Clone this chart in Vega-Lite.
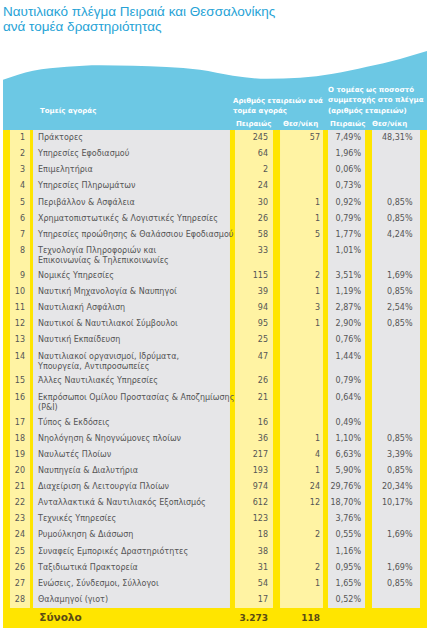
{
  "$schema": "https://vega.github.io/schema/vega-lite/v6.json",
  "width": 431,
  "height": 631,
  "autosize": {"type": "fit", "contains": "padding"},
  "padding": {"left": 0, "right": 0, "top": 5, "bottom": 0},
  "background": "white",
  "title": {
    "text": "Ναυτιλιακό πλέγμα Πειραιά και Θεσσαλονίκης",
    "subtitle": "ανά τομέα δραστηριότητας",
    "anchor": "start",
    "frame": "group",
    "dx": 3,
    "fontSize": 13.5,
    "font": "Liberation Sans",
    "fontWeight": "normal",
    "color": "#27a3d6",
    "subtitleFont": "Liberation Sans",
    "subtitleFontSize": 13.5,
    "subtitleColor": "#27a3d6",
    "subtitlePadding": 1,
    "offset": 4
  },
  "config": {
    "view": {"stroke": null},
    "locale": {"number": {"decimal": ",", "thousands": ".", "grouping": [3], "currency": ["", " €"]}},
    "text": {"font": "DejaVu Sans"}
  },
  "datasets": {
    "rows": [
      {"num": 1, "sector": "Πράκτορες", "P": 245, "T": 57, "Pp": 0.0749, "Tp": 0.4831, "kind": "row"},
      {"num": 2, "sector": "Υπηρεσίες Εφοδιασμού", "P": 64, "T": null, "Pp": 0.0196, "Tp": null, "kind": "row"},
      {"num": 3, "sector": "Επιμελητήρια", "P": 2, "T": null, "Pp": 0.0006, "Tp": null, "kind": "row"},
      {"num": 4, "sector": "Υπηρεσίες Πληρωμάτων", "P": 24, "T": null, "Pp": 0.0073, "Tp": null, "kind": "row"},
      {"num": 5, "sector": "Περιβάλλον & Ασφάλεια", "P": 30, "T": 1, "Pp": 0.0092, "Tp": 0.0085, "kind": "row"},
      {"num": 6, "sector": "Χρηματοπιστωτικές & Λογιστικές Υπηρεσίες", "P": 26, "T": 1, "Pp": 0.0079, "Tp": 0.0085, "kind": "row"},
      {"num": 7, "sector": "Υπηρεσίες προώθησης & Θαλάσσιου Εφοδιασμού", "P": 58, "T": 5, "Pp": 0.0177, "Tp": 0.0424, "kind": "row"},
      {"num": 8, "sector": "Τεχνολογία Πληροφοριών και\nΕπικοινωνίας & Τηλεπικοινωνίες", "P": 33, "T": null, "Pp": 0.0101, "Tp": null, "kind": "row"},
      {"num": 9, "sector": "Νομικές Υπηρεσίες", "P": 115, "T": 2, "Pp": 0.0351, "Tp": 0.0169, "kind": "row"},
      {"num": 10, "sector": "Ναυτική Μηχανολογία & Ναυπηγοί", "P": 39, "T": 1, "Pp": 0.0119, "Tp": 0.0085, "kind": "row"},
      {"num": 11, "sector": "Ναυτιλιακή Ασφάλιση", "P": 94, "T": 3, "Pp": 0.0287, "Tp": 0.0254, "kind": "row"},
      {"num": 12, "sector": "Ναυτικοί & Ναυτιλιακοί Σύμβουλοι", "P": 95, "T": 1, "Pp": 0.029, "Tp": 0.0085, "kind": "row"},
      {"num": 13, "sector": "Ναυτική Εκπαίδευση", "P": 25, "T": null, "Pp": 0.0076, "Tp": null, "kind": "row"},
      {"num": 14, "sector": "Ναυτιλιακοί οργανισμοί, Ιδρύματα,\nΥπουργεία, Αντιπροσωπείες", "P": 47, "T": null, "Pp": 0.0144, "Tp": null, "kind": "row"},
      {"num": 15, "sector": "Άλλες Ναυτιλιακές Υπηρεσίες", "P": 26, "T": null, "Pp": 0.0079, "Tp": null, "kind": "row"},
      {"num": 16, "sector": "Εκπρόσωποι Ομίλου Προστασίας & Αποζημίωσης\n(P&I)", "P": 21, "T": null, "Pp": 0.0064, "Tp": null, "kind": "row"},
      {"num": 17, "sector": "Τύπος & Εκδόσεις", "P": 16, "T": null, "Pp": 0.0049, "Tp": null, "kind": "row"},
      {"num": 18, "sector": "Νηολόγηση & Νηογνώμονες πλοίων", "P": 36, "T": 1, "Pp": 0.011, "Tp": 0.0085, "kind": "row"},
      {"num": 19, "sector": "Ναυλωτές Πλοίων", "P": 217, "T": 4, "Pp": 0.0663, "Tp": 0.0339, "kind": "row"},
      {"num": 20, "sector": "Ναυπηγεία & Διαλυτήρια", "P": 193, "T": 1, "Pp": 0.059, "Tp": 0.0085, "kind": "row"},
      {"num": 21, "sector": "Διαχείριση & Λειτουργία Πλοίων", "P": 974, "T": 24, "Pp": 0.2976, "Tp": 0.2034, "kind": "row"},
      {"num": 22, "sector": "Ανταλλακτικά & Ναυτιλιακός Εξοπλισμός", "P": 612, "T": 12, "Pp": 0.187, "Tp": 0.1017, "kind": "row"},
      {"num": 23, "sector": "Τεχνικές Υπηρεσίες", "P": 123, "T": null, "Pp": 0.0376, "Tp": null, "kind": "row"},
      {"num": 24, "sector": "Ρυμούλκηση & Διάσωση", "P": 18, "T": 2, "Pp": 0.0055, "Tp": 0.0169, "kind": "row"},
      {"num": 25, "sector": "Συναφείς Εμπορικές Δραστηριότητες", "P": 38, "T": null, "Pp": 0.0116, "Tp": null, "kind": "row"},
      {"num": 26, "sector": "Ταξιδιωτικά Πρακτορεία", "P": 31, "T": 2, "Pp": 0.0095, "Tp": 0.0169, "kind": "row"},
      {"num": 27, "sector": "Ενώσεις, Σύνδεσμοι, Σύλλογοι", "P": 54, "T": 1, "Pp": 0.0165, "Tp": 0.0085, "kind": "row"},
      {"num": 28, "sector": "Θαλαμηγοί (γιοτ)", "P": 17, "T": null, "Pp": 0.0052, "Tp": null, "kind": "row"},
      {"num": null, "sector": "Σύνολο", "P": 3273, "T": 118, "Pp": null, "Tp": null, "kind": "total"}
    ],
    "cols": [
      {"col": "num", "x0": 2.32, "x1": 6.96, "tone": "light"},
      {"col": "sector", "x0": 7.66, "x1": 53.36, "tone": "gray"},
      {"col": "P", "x0": 54.52, "x1": 63.34, "tone": "light"},
      {"col": "T", "x0": 64.97, "x1": 74.94, "tone": "light"},
      {"col": "Pp", "x0": 76.1, "x1": 84.69, "tone": "gray"},
      {"col": "Tp", "x0": 86.31, "x1": 97.45, "tone": "gray"}
    ],
    "wave": [
      {"x": 0.7, "y": -3.117},
      {"x": 7.66, "y": -3.673},
      {"x": 15.55, "y": -3.92},
      {"x": 23.2, "y": -4.012},
      {"x": 30.86, "y": -3.981},
      {"x": 46.4, "y": -3.735},
      {"x": 54.06, "y": -3.364},
      {"x": 61.95, "y": -3.179},
      {"x": 69.61, "y": -3.241},
      {"x": 77.26, "y": -3.488},
      {"x": 85.15, "y": -3.92},
      {"x": 92.81, "y": -4.414},
      {"x": 99.07, "y": -4.907}
    ]
  },
  "data": {"name": "rows"},
  "transform": [
    {"calculate": "datum.kind === 'total' ? 1.25 : (indexof(datum.sector, '\\n') >= 0 ? 1.55 : 1)", "as": "w"},
    {"stack": "w", "groupby": [], "sort": [{"field": "kind", "order": "ascending"}, {"field": "num", "order": "ascending"}], "as": ["y0", "y1"]},
    {"calculate": "datum.y0 + (datum.kind === 'total' ? datum.w / 2 : 0.5)", "as": "ym"}
  ],
  "layer": [
    {
      "transform": [{"aggregate": [{"op": "min", "field": "y0", "as": "top"}, {"op": "max", "field": "y1", "as": "bot"}]}],
      "mark": {"type": "rect", "color": "#FFE500"},
      "encoding": {
        "x": {"datum": 0.7, "type": "quantitative", "scale": {"domain": [0, 100], "nice": false, "zero": false}, "axis": null},
        "x2": {"datum": 99.07},
        "y": {"field": "top", "type": "quantitative", "scale": {"domain": [-5.772, 31.08], "nice": false, "zero": false, "reverse": true}, "axis": null},
        "y2": {"field": "bot"}
      }
    },
    {
      "transform": [
        {"filter": "datum.kind === 'row'"},
        {"fold": ["num", "sector", "P", "T", "Pp", "Tp"], "as": ["col", "v"]},
        {"aggregate": [{"op": "min", "field": "y0", "as": "top"}, {"op": "max", "field": "y1", "as": "bot"}], "groupby": ["col"]},
        {"lookup": "col", "from": {"data": {"name": "cols"}, "key": "col", "fields": ["x0", "x1", "tone"]}}
      ],
      "mark": {"type": "rect"},
      "encoding": {
        "x": {"field": "x0", "type": "quantitative", "scale": {"domain": [0, 100], "nice": false, "zero": false}, "axis": null},
        "x2": {"field": "x1"},
        "y": {"field": "top", "type": "quantitative", "scale": {"domain": [-5.772, 31.08], "nice": false, "zero": false, "reverse": true}, "axis": null},
        "y2": {"field": "bot"},
        "color": {"field": "tone", "type": "nominal", "scale": {"domain": ["light", "gray"], "range": ["#FFF3A3", "#E6E6E8"]}, "legend": null}
      }
    },
    {
      "data": {"name": "wave"},
      "mark": {"type": "area", "color": "#6CC8E4", "interpolate": "monotone"},
      "encoding": {
        "x": {"field": "x", "type": "quantitative", "scale": {"domain": [0, 100], "nice": false, "zero": false}, "axis": null},
        "y": {"field": "y", "type": "quantitative", "scale": {"domain": [-5.772, 31.08], "nice": false, "zero": false, "reverse": true}, "axis": null},
        "y2": {"datum": 0}
      }
    },
    {
      "data": {"values": [{"h": "Τομείς αγοράς"}]},
      "mark": {"type": "text", "align": "left", "baseline": "middle", "color": "white", "fontWeight": "bold", "fontSize": 7},
      "encoding": {
        "x": {"datum": 9.28, "type": "quantitative", "scale": {"domain": [0, 100], "nice": false, "zero": false}, "axis": null},
        "y": {"datum": -1.204, "type": "quantitative", "scale": {"domain": [-5.772, 31.08], "nice": false, "zero": false, "reverse": true}, "axis": null},
        "text": {"field": "h"}
      }
    },
    {
      "data": {"values": [{"h": "Αριθμός εταιρειών ανά\nτομέα αγοράς"}]},
      "mark": {"type": "text", "align": "left", "baseline": "middle", "color": "white", "fontWeight": "bold", "fontSize": 7, "lineBreak": "\n", "lineHeight": 10.5},
      "encoding": {
        "x": {"datum": 54.06, "type": "quantitative", "scale": {"domain": [0, 100], "nice": false, "zero": false}, "axis": null},
        "y": {"datum": -1.821, "type": "quantitative", "scale": {"domain": [-5.772, 31.08], "nice": false, "zero": false, "reverse": true}, "axis": null},
        "text": {"field": "h"}
      }
    },
    {
      "data": {"values": [{"h": "Ο τομέας ως ποσοστό\nσυμμετοχής στο πλέγμα\n(αριθμός εταιρειών)"}]},
      "mark": {"type": "text", "align": "left", "baseline": "middle", "color": "white", "fontWeight": "bold", "fontSize": 7, "lineBreak": "\n", "lineHeight": 10.5},
      "encoding": {
        "x": {"datum": 76.1, "type": "quantitative", "scale": {"domain": [0, 100], "nice": false, "zero": false}, "axis": null},
        "y": {"datum": -2.5, "type": "quantitative", "scale": {"domain": [-5.772, 31.08], "nice": false, "zero": false, "reverse": true}, "axis": null},
        "text": {"field": "h"}
      }
    },
    {
      "data": {"values": [{"h": "Πειραιώς", "c": 54.76}, {"h": "Θεσ/νίκη", "c": 65.66}, {"h": "Πειραιώς", "c": 76.57}, {"h": "Θεσ/νίκη", "c": 86.31}]},
      "mark": {"type": "text", "align": "left", "baseline": "middle", "color": "white", "fontWeight": "bold", "fontSize": 7},
      "encoding": {
        "x": {"field": "c", "type": "quantitative", "scale": {"domain": [0, 100], "nice": false, "zero": false}, "axis": null},
        "y": {"datum": -0.401, "type": "quantitative", "scale": {"domain": [-5.772, 31.08], "nice": false, "zero": false, "reverse": true}, "axis": null},
        "text": {"field": "h"}
      }
    },
    {
      "transform": [{"filter": "datum.kind === 'row'"}],
      "mark": {"type": "text", "align": "right", "baseline": "middle", "color": "#555555", "fontSize": 8},
      "encoding": {
        "x": {"datum": 5.8, "type": "quantitative", "scale": {"domain": [0, 100], "nice": false, "zero": false}, "axis": null},
        "y": {"field": "ym", "type": "quantitative", "scale": {"domain": [-5.772, 31.08], "nice": false, "zero": false, "reverse": true}, "axis": null},
        "text": {"field": "num", "type": "nominal"}
      }
    },
    {
      "transform": [{"filter": "datum.kind === 'row'"}],
      "mark": {"type": "text", "align": "left", "baseline": "top", "dy": -4, "color": "#555555", "fontSize": 8, "lineBreak": "\n", "lineHeight": 10},
      "encoding": {
        "x": {"datum": 8.82, "type": "quantitative", "scale": {"domain": [0, 100], "nice": false, "zero": false}, "axis": null},
        "y": {"field": "ym", "type": "quantitative", "scale": {"domain": [-5.772, 31.08], "nice": false, "zero": false, "reverse": true}, "axis": null},
        "text": {"field": "sector", "type": "nominal"}
      }
    },
    {
      "transform": [{"filter": "datum.kind === 'row'"}],
      "mark": {"type": "text", "align": "right", "baseline": "middle", "color": "#555555", "fontSize": 8},
      "encoding": {
        "x": {"datum": 62.18, "type": "quantitative", "scale": {"domain": [0, 100], "nice": false, "zero": false}, "axis": null},
        "y": {"field": "ym", "type": "quantitative", "scale": {"domain": [-5.772, 31.08], "nice": false, "zero": false, "reverse": true}, "axis": null},
        "text": {"field": "P", "type": "quantitative", "format": "d"}
      }
    },
    {
      "transform": [{"filter": "datum.kind === 'row' && isValid(datum.T)"}],
      "mark": {"type": "text", "align": "right", "baseline": "middle", "color": "#555555", "fontSize": 8},
      "encoding": {
        "x": {"datum": 74.25, "type": "quantitative", "scale": {"domain": [0, 100], "nice": false, "zero": false}, "axis": null},
        "y": {"field": "ym", "type": "quantitative", "scale": {"domain": [-5.772, 31.08], "nice": false, "zero": false, "reverse": true}, "axis": null},
        "text": {"field": "T", "type": "quantitative", "format": "d"}
      }
    },
    {
      "transform": [{"filter": "datum.kind === 'row' && isValid(datum.Pp)"}],
      "mark": {"type": "text", "align": "right", "baseline": "middle", "color": "#555555", "fontSize": 8},
      "encoding": {
        "x": {"datum": 83.76, "type": "quantitative", "scale": {"domain": [0, 100], "nice": false, "zero": false}, "axis": null},
        "y": {"field": "ym", "type": "quantitative", "scale": {"domain": [-5.772, 31.08], "nice": false, "zero": false, "reverse": true}, "axis": null},
        "text": {"field": "Pp", "type": "quantitative", "format": ".2%"}
      }
    },
    {
      "transform": [{"filter": "datum.kind === 'row' && isValid(datum.Tp)"}],
      "mark": {"type": "text", "align": "right", "baseline": "middle", "color": "#555555", "fontSize": 8},
      "encoding": {
        "x": {"datum": 95.71, "type": "quantitative", "scale": {"domain": [0, 100], "nice": false, "zero": false}, "axis": null},
        "y": {"field": "ym", "type": "quantitative", "scale": {"domain": [-5.772, 31.08], "nice": false, "zero": false, "reverse": true}, "axis": null},
        "text": {"field": "Tp", "type": "quantitative", "format": ".2%"}
      }
    },
    {
      "transform": [{"filter": "datum.kind === 'total'"}],
      "mark": {"type": "text", "align": "left", "baseline": "middle", "color": "#5a4b14", "fontSize": 10.5, "fontWeight": "bold"},
      "encoding": {
        "x": {"datum": 9.1, "type": "quantitative", "scale": {"domain": [0, 100], "nice": false, "zero": false}, "axis": null},
        "y": {"field": "ym", "type": "quantitative", "scale": {"domain": [-5.772, 31.08], "nice": false, "zero": false, "reverse": true}, "axis": null},
        "text": {"field": "sector", "type": "nominal"}
      }
    },
    {
      "transform": [{"filter": "datum.kind === 'total'"}],
      "mark": {"type": "text", "align": "right", "baseline": "middle", "color": "#5a4b14", "fontSize": 9, "fontWeight": "bold"},
      "encoding": {
        "x": {"datum": 62.18, "type": "quantitative", "scale": {"domain": [0, 100], "nice": false, "zero": false}, "axis": null},
        "y": {"field": "ym", "type": "quantitative", "scale": {"domain": [-5.772, 31.08], "nice": false, "zero": false, "reverse": true}, "axis": null},
        "text": {"field": "P", "type": "quantitative", "format": ",d"}
      }
    },
    {
      "transform": [{"filter": "datum.kind === 'total'"}],
      "mark": {"type": "text", "align": "right", "baseline": "middle", "color": "#5a4b14", "fontSize": 9, "fontWeight": "bold"},
      "encoding": {
        "x": {"datum": 74.25, "type": "quantitative", "scale": {"domain": [0, 100], "nice": false, "zero": false}, "axis": null},
        "y": {"field": "ym", "type": "quantitative", "scale": {"domain": [-5.772, 31.08], "nice": false, "zero": false, "reverse": true}, "axis": null},
        "text": {"field": "T", "type": "quantitative", "format": ",d"}
      }
    }
  ]
}
